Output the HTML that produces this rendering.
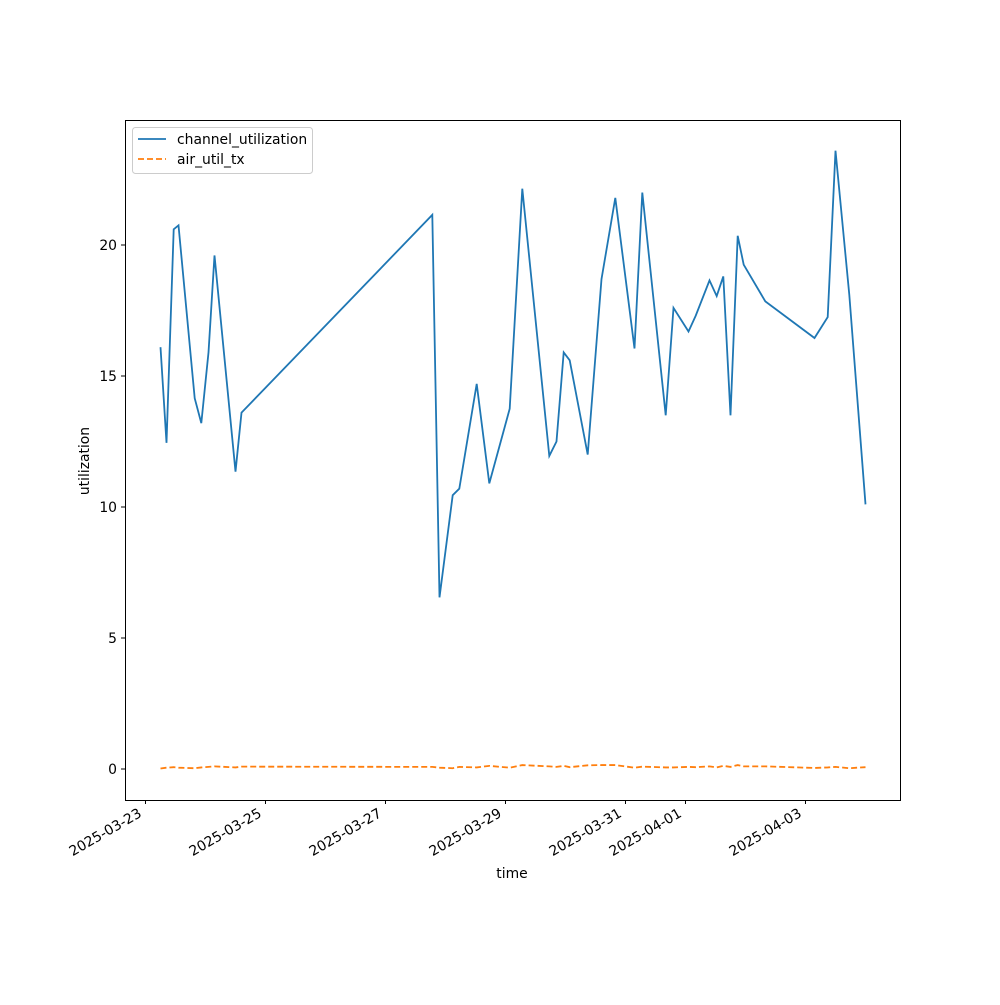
<!DOCTYPE html>
<html><head><meta charset="utf-8"><style>
body{margin:0;background:#fff;}
svg text{font-family:"DejaVu Sans","Liberation Sans",sans-serif;font-size:13.9px;fill:#000;}
</style></head><body>
<svg id="chart" width="1000" height="1000" xmlns="http://www.w3.org/2000/svg"></svg>
<script>
const days=[0.25,0.35,0.47,0.55,0.82,0.93,1.05,1.15,1.5,1.6,4.78,4.9,5.12,5.23,5.52,5.73,6.07,6.28,6.73,6.85,6.97,7.07,7.37,7.6,7.83,8.15,8.28,8.67,8.8,9.05,9.17,9.4,9.52,9.63,9.75,9.87,9.97,10.33,11.15,11.37,11.5,11.73,12.0];
const channelUtil=[16.1,12.45,20.6,20.75,14.15,13.2,15.9,19.6,11.35,13.6,21.15,6.55,10.45,10.7,14.7,10.9,13.75,22.15,11.95,12.5,15.9,15.6,12.0,18.7,21.8,16.05,22.0,13.5,17.6,16.7,17.3,18.65,18.05,18.8,13.5,20.35,19.25,17.85,16.45,17.25,23.6,18.1,10.1];
const airUtil=[0.02,0.05,0.07,0.05,0.03,0.06,0.08,0.1,0.06,0.09,0.08,0.05,0.03,0.08,0.06,0.12,0.05,0.15,0.1,0.08,0.12,0.07,0.14,0.15,0.15,0.05,0.09,0.06,0.06,0.08,0.07,0.1,0.06,0.12,0.08,0.15,0.1,0.1,0.04,0.06,0.08,0.03,0.07];
const yTicks=[0,5,10,15,20];
const xTickDays=[0,2,4,6,8,9,11];
const xTickLabels=["2025-03-23","2025-03-25","2025-03-27","2025-03-29","2025-03-31","2025-04-01","2025-04-03"];
const NS="http://www.w3.org/2000/svg";
const svg=document.getElementById('chart');
const X=d=>145.5+d*60;
const Y=v=>769-v*26.2;
function el(t,a){const e=document.createElementNS(NS,t);for(const k in a)e.setAttribute(k,a[k]);svg.appendChild(e);return e;}
const frame=el('rect',{x:125.5,y:120.5,width:775,height:680,fill:'none',stroke:'#000','stroke-width':1});


yTicks.forEach(v=>{
  const t=el('line',{x1:121,x2:125,y1:Y(v),y2:Y(v),stroke:'#000'});
  
  
  const l=el('text',{x:117,y:Y(v)+5,'text-anchor':'end'});l.textContent=v;
  
  
});
xTickDays.forEach((d,i)=>{
  const t=el('line',{x1:X(d),x2:X(d),y1:800,y2:804,stroke:'#000'});
  
  
  const ax=X(d)-3, ay=816;
  const l=el('text',{x:ax,y:ay,'text-anchor':'end',transform:`rotate(-30 ${ax} ${ay})`});l.textContent=xTickLabels[i];
  
  
});
const xt=el('text',{x:512,y:878,'text-anchor':'middle'});xt.textContent='time';


const yt=el('text',{x:89,y:461,'text-anchor':'middle',transform:'rotate(-90 89 461)'});yt.textContent='utilization';


const p1=el('polyline',{points:days.map((d,i)=>X(d)+','+Y(channelUtil[i])).join(' '),fill:'none',stroke:'#1f77b4','stroke-width':1.8});


const p2=el('polyline',{points:days.map((d,i)=>X(d)+','+Y(airUtil[i])).join(' '),fill:'none',stroke:'#ff7f0e','stroke-width':1.8,'stroke-dasharray':'6,3'});


const lg=el('rect',{x:132.5,y:127.5,width:180,height:46,fill:'#fff',stroke:'#ccc',rx:3});


const l1=el('line',{x1:138,x2:166,y1:139,y2:139,stroke:'#1f77b4','stroke-width':1.8});


const t1=el('text',{x:177,y:144});t1.textContent='channel_utilization';


const l2=el('line',{x1:138,x2:166,y1:159,y2:159,stroke:'#ff7f0e','stroke-width':1.8,'stroke-dasharray':'6,3'});


const t2=el('text',{x:177,y:164});t2.textContent='air_util_tx';


</script>
</body></html>
